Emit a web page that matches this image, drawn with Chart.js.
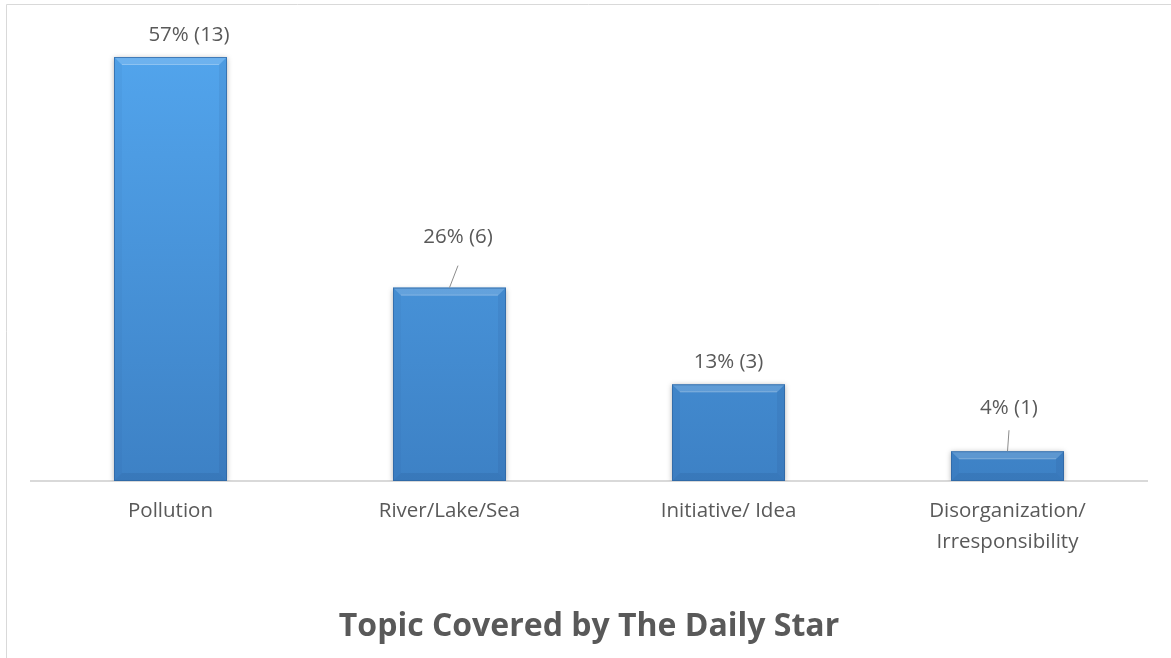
<!DOCTYPE html>
<html>
<head>
<meta charset="utf-8">
<script src="https://cdn.jsdelivr.net/npm/chart.js@4.4.1/dist/chart.umd.min.js"></script>
<style>
  html, body { margin: 0; padding: 0; background: #ffffff; }
  #wrap { width: 1171px; height: 658px; position: relative; }
</style>
</head>
<body>
<div id="wrap"><canvas id="c" width="1171" height="658"></canvas></div>
<script>
// ---- data ----
const categories = ['Pollution', 'River/Lake/Sea', 'Initiative/ Idea', ['Disorganization/', 'Irresponsibility']];
const percentValues = [57, 26, 13, 4];
const articleCounts = [13, 6, 3, 1];
const titleText = 'Topic Covered by The Daily Star';

// ---- label placement (style config, not data) ----
const labelOffsetX = [18.5, 8.5, 0, 1.5];
const labelOffsetY = [22, 50, 22, 43];
const leaderGap = [null, 28, null, 22];

const textColor = '#595959';
const fontFamily = '"Open Sans", "Noto Sans", sans-serif';

const framePlugin = {
  id: 'frame',
  beforeDraw(chart) {
    const ctx = chart.ctx;
    ctx.save();
    ctx.strokeStyle = '#D9D9D9';
    ctx.lineWidth = 1;
    ctx.beginPath();
    ctx.moveTo(6.5, 700);
    ctx.lineTo(6.5, 4.5);
    ctx.lineTo(1171, 4.5);
    ctx.stroke();
    ctx.restore();
  }
};

const barStylePlugin = {
  id: 'barStyle',
  beforeDatasetsDraw(chart) {
    const ctx = chart.ctx;
    ctx.save();
    ctx.shadowColor = 'rgba(0,0,0,0.30)';
    ctx.shadowBlur = 5;
    ctx.shadowOffsetX = 0;
    ctx.shadowOffsetY = 1;
  },
  afterDatasetsDraw(chart) {
    const ctx = chart.ctx;
    ctx.restore();
    const meta = chart.getDatasetMeta(0);
    meta.data.forEach((el, i) => {
      const p = el.getProps(['x', 'y', 'base', 'width'], true);
      const l = p.x - p.width / 2, r = p.x + p.width / 2, t = p.y, b = p.base;
      const bv = Math.min(8, (b - t) / 2);
      ctx.save();
      // top bevel
      ctx.fillStyle = 'rgba(255,255,255,0.16)';
      ctx.beginPath();
      ctx.moveTo(l, t); ctx.lineTo(r, t); ctx.lineTo(r - bv, t + bv); ctx.lineTo(l + bv, t + bv); ctx.closePath(); ctx.fill();
      ctx.strokeStyle = 'rgba(255,255,255,0.22)';
      ctx.lineWidth = 1;
      ctx.beginPath(); ctx.moveTo(l + bv, t + bv - 0.5); ctx.lineTo(r - bv, t + bv - 0.5); ctx.stroke();
      // left bevel
      ctx.fillStyle = 'rgba(20,60,110,0.04)';
      ctx.beginPath();
      ctx.moveTo(l, t); ctx.lineTo(l + bv, t + bv); ctx.lineTo(l + bv, b - bv); ctx.lineTo(l, b); ctx.closePath(); ctx.fill();
      // right bevel
      ctx.fillStyle = 'rgba(20,50,100,0.08)';
      ctx.beginPath();
      ctx.moveTo(r, t); ctx.lineTo(r - bv, t + bv); ctx.lineTo(r - bv, b - bv); ctx.lineTo(r, b); ctx.closePath(); ctx.fill();
      // bottom bevel
      ctx.fillStyle = 'rgba(20,50,100,0.10)';
      ctx.beginPath();
      ctx.moveTo(l, b); ctx.lineTo(r, b); ctx.lineTo(r - bv, b - bv); ctx.lineTo(l + bv, b - bv); ctx.closePath(); ctx.fill();
      // outline
      ctx.strokeStyle = 'rgba(45,100,160,0.7)';
      ctx.lineWidth = 1;
      ctx.strokeRect(l + 0.5, t + 0.5, p.width - 1, b - t - 1);
      ctx.restore();

      // labels
      const lx = p.x + labelOffsetX[i];
      const ly = p.y - labelOffsetY[i];
      ctx.save();
      ctx.fillStyle = textColor;
      ctx.font = '20.5px ' + fontFamily;
      ctx.textAlign = 'center';
      ctx.textBaseline = 'middle';
      ctx.fillText(percentValues[i] + '% (' + articleCounts[i] + ')', lx, ly);
      if (leaderGap[i] !== null) {
        ctx.strokeStyle = '#8C8C8C';
        ctx.lineWidth = 1;
        ctx.beginPath();
        ctx.moveTo(lx, ly + leaderGap[i]);
        ctx.lineTo(p.x, p.y);
        ctx.stroke();
      }
      ctx.restore();
    });
  }
};

function barGradient(context) {
  const chart = context.chart;
  const area = chart.chartArea;
  if (!area) return '#4A9BE0';
  const el = context.element;
  let top = area.top, bottom = area.bottom;
  if (el) {
    const p = el.getProps(['y', 'base'], true);
    if (isFinite(p.y) && isFinite(p.base) && p.base > p.y) { top = p.y; bottom = p.base; }
  }
  const g = chart.ctx.createLinearGradient(0, top, 0, bottom);
  g.addColorStop(0, '#53A6EE');
  g.addColorStop(1, '#3D81C5');
  return g;
}

function build() {
  new Chart(document.getElementById('c'), {
    type: 'bar',
    data: {
      labels: categories,
      datasets: [{
        data: percentValues,
        backgroundColor: barGradient,
        borderWidth: 0,
        categoryPercentage: 1,
        barPercentage: 0.405
      }]
    },
    options: {
      responsive: false,
      animation: false,
      layout: { padding: { top: 34.7, left: 31, right: 24, bottom: 0 } },
      plugins: {
        legend: { display: false },
        tooltip: { enabled: false },
        title: {
          display: true,
          position: 'bottom',
          text: titleText,
          color: textColor,
          font: { family: fontFamily, size: 32, weight: 'bold', lineHeight: 1.2 },
          padding: { top: 16.8, bottom: 11.8 }
        }
      },
      scales: {
        x: {
          grid: { display: false, drawTicks: false },
          border: { display: true, color: '#D9D9D9', width: 2 },
          ticks: {
            color: textColor,
            font: { family: fontFamily, size: 20.5, lineHeight: 1.5 },
            padding: 15,
            maxRotation: 0,
            autoSkip: false
          },
          afterFit(scale) { scale.height = 110; }
        },
        y: {
          display: false,
          min: 0,
          max: 60
        }
      }
    },
    plugins: [framePlugin, barStylePlugin]
  });
}

Promise.all([
  document.fonts.load('20.5px "Open Sans"'),
  document.fonts.load('bold 32px "Open Sans"')
]).then(build, build);
</script>
</body>
</html>
